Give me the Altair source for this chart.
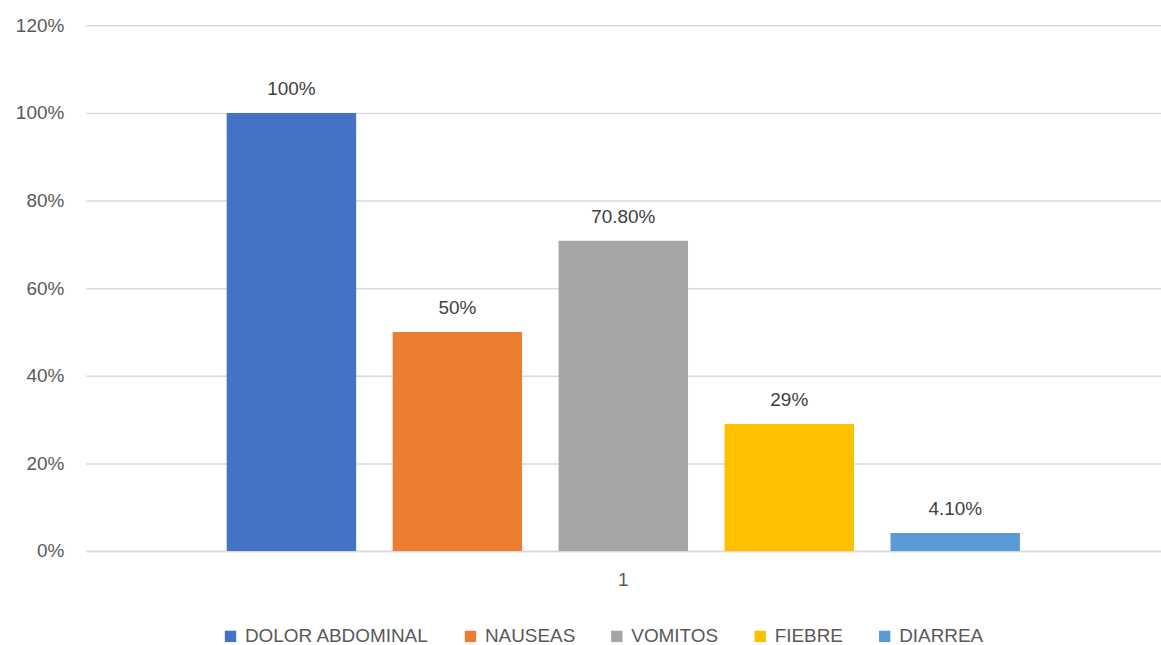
import altair as alt
import pandas as pd

series = ["DOLOR ABDOMINAL", "NAUSEAS", "VOMITOS", "FIEBRE", "DIARREA"]
values = [1.00, 0.50, 0.708, 0.29, 0.041]
labels = ["100%", "50%", "70.80%", "29%", "4.10%"]
colors = ["#4472C4", "#ED7D31", "#A5A5A5", "#FFC000", "#5B9BD5"]
category = "1"

df = pd.DataFrame({"cat": [category] * len(series), "serie": series,
                   "valor": values, "etiqueta": labels})

FONT = "Liberation Sans"
GREY = "#595959"
FS = 19

base = alt.Chart(df).encode(
    x=alt.X("cat:N", title=None,
            scale=alt.Scale(paddingInner=0, paddingOuter=0),
            axis=alt.Axis(labelAngle=0, labelFontSize=FS, labelColor=GREY,
                          labelFont=FONT, labelPadding=20, ticks=False,
                          domainColor="#d9d9d9", domainWidth=1.5, grid=False)),
    xOffset=alt.XOffset("serie:N", sort=series,
                        scale=alt.Scale(paddingInner=0.22, paddingOuter=0.85)),
)

bars = base.mark_bar().encode(
    y=alt.Y("valor:Q", title=None,
            scale=alt.Scale(domain=[0, 1.2]),
            axis=alt.Axis(format=".0%", values=[0, 0.2, 0.4, 0.6, 0.8, 1.0, 1.2],
                          labelFontSize=FS, labelColor=GREY, labelFont=FONT,
                          labelPadding=22, ticks=False, domain=False,
                          gridColor="#d9d9d9", gridWidth=1.5)),
    color=alt.Color("serie:N", sort=series,
                    scale=alt.Scale(domain=series, range=colors),
                    legend=alt.Legend(title=None, orient="none", direction="horizontal",
                                      legendX=136, legendY=604,
                                      symbolType="square", symbolSize=130,
                                      symbolStrokeWidth=0, labelLimit=400,
                                      labelFontSize=FS, labelColor=GREY, labelFont=FONT,
                                      columnPadding=32, labelOffset=5)),
)

text = base.mark_text(dy=-14, baseline="bottom", fontSize=FS, color="#404040",
                      font=FONT).encode(
    y=alt.Y("valor:Q"),
    text="etiqueta:N",
)

chart = (bars + text).properties(
    width=1080, height=528,
    autosize=alt.AutoSizeParams(type="none"),
    padding={"left": 86, "top": 24, "right": 0, "bottom": 93},
).configure(background="white").configure_view(stroke=None)

chart.save("out.html", embed_options={"renderer": "svg", "actions": False})
